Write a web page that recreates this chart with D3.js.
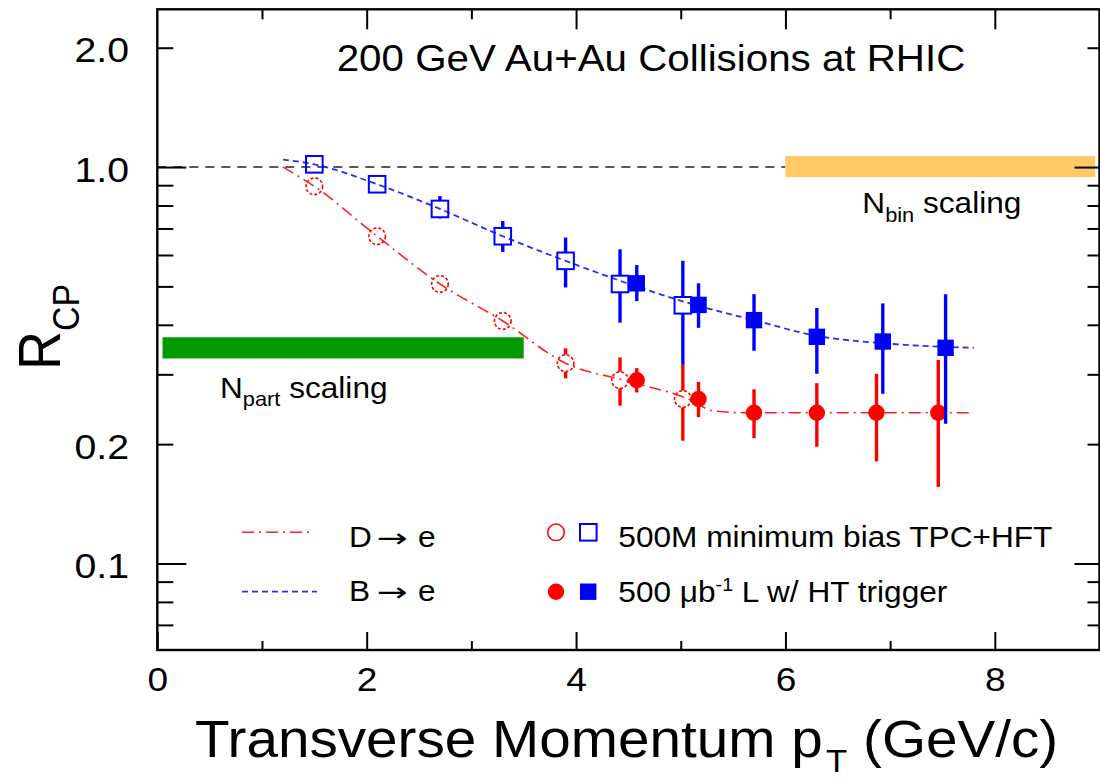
<!DOCTYPE html>
<html><head><meta charset="utf-8">
<script src="https://cdn.jsdelivr.net/npm/d3@7"></script>
<style>
body{margin:0;background:#fff}
svg{display:block}
text{font-family:"Liberation Sans",Arial,Helvetica,sans-serif;fill:#000}
</style>
</head><body>
<svg id="c" width="1100" height="780"></svg>
<script>
// ---------------- data ----------------
const xMajorTicks = [0, 2, 4, 6, 8];
const xMinorTicks = [1, 3, 5, 7];
const yLabelTicks = [0.1, 0.2, 1.0, 2.0];
const yMajorTicks = [0.1, 1.0];
const yMinorTicks = [0.07, 0.08, 0.09, 0.2, 0.3, 0.4, 0.5, 0.6, 0.7, 0.8, 0.9, 2.0];

// 500M minimum bias (open markers)
const mbPtD = [1.5, 2.1, 2.7, 3.3, 3.9, 4.42, 5.02];
const mbD   = [0.894, 0.669, 0.507, 0.409, 0.320, 0.290, 0.260];
const mbDHi = [0.894, 0.669, 0.507, 0.409, 0.349, 0.331, 0.317];
const mbDLo = [0.894, 0.669, 0.507, 0.409, 0.293, 0.250, 0.204];
const mbPtB = [1.5, 2.1, 2.7, 3.3, 3.9, 4.42, 5.02];
const mbB   = [1.016, 0.905, 0.784, 0.669, 0.580, 0.507, 0.448];
const mbBHi = [1.016, 0.905, 0.845, 0.731, 0.664, 0.620, 0.580];
const mbBLo = [1.016, 0.905, 0.742, 0.611, 0.497, 0.405, 0.317];

// 500 ub^-1 HT trigger (filled markers)
const htPtD = [4.58, 5.17, 5.70, 6.30, 6.87, 7.46];
const htD   = [0.290, 0.260, 0.240, 0.240, 0.240, 0.240];
const htDHi = [0.311, 0.287, 0.275, 0.285, 0.301, 0.326];
const htDLo = [0.270, 0.234, 0.207, 0.197, 0.181, 0.156];
const htPtB = [4.58, 5.17, 5.70, 6.30, 6.93, 7.53];
const htB   = [0.509, 0.449, 0.411, 0.373, 0.363, 0.350];
const htBHi = [0.566, 0.509, 0.478, 0.441, 0.453, 0.478];
const htBLo = [0.459, 0.393, 0.344, 0.301, 0.268, 0.225];

// model curves
const curvePtD = [1.2, 1.5, 2.1, 2.7, 3.3, 3.9, 4.5, 5.1, 5.3, 5.6, 6.5, 7.8];
const curveD   = [1.0, 0.894, 0.669, 0.507, 0.409, 0.320, 0.288, 0.258, 0.243, 0.240, 0.240, 0.240];
const curvePtB = [1.2, 1.5, 2.1, 2.7, 3.3, 3.9, 4.5, 5.1, 5.7, 6.3, 6.9, 7.5, 7.8];
const curveB   = [1.044, 1.016, 0.905, 0.784, 0.669, 0.580, 0.508, 0.452, 0.411, 0.375, 0.360, 0.352, 0.350];

// scaling bands
const nbinX = [6.0, 8.96], nbinY = [0.944, 1.066];
const npartX = [0.05, 3.5], npartY = [0.329, 0.372];
const refLevel = 1.0;

// ---------------- drawing ----------------
const FONT = '"Liberation Sans",Arial,Helvetica,sans-serif';
const SX = 1.09;
const RED = "#ff0000", BLUE = "#0000ff";
const svg = d3.select("#c");
const L = 157.3, R = 1099.5, T = 9.3, B = 650;
const x = d3.scaleLinear().domain([0, 9]).range([L, R]);
const y = d3.scaleLog().domain([0.0605, 2.5]).range([B, T]);

// reference line at 1
svg.append("line")
  .attr("x1", x(0)).attr("x2", x(nbinX[0])).attr("y1", y(refLevel)).attr("y2", y(refLevel))
  .attr("stroke", "#222").attr("stroke-width", 1.6).attr("stroke-dasharray", "9,7");

// bands
svg.append("rect").attr("x", x(nbinX[0])).attr("width", x(nbinX[1]) - x(nbinX[0]))
  .attr("y", y(nbinY[1])).attr("height", y(nbinY[0]) - y(nbinY[1])).attr("fill", "#ffc966");
svg.append("rect").attr("x", x(npartX[0])).attr("width", x(npartX[1]) - x(npartX[0]))
  .attr("y", y(npartY[1])).attr("height", y(npartY[0]) - y(npartY[1])).attr("fill", "#009a00");

// curves
const line = d3.line().x(d => x(d[0])).y(d => y(d[1])).curve(d3.curveMonotoneX);
svg.append("path").datum(curvePtD.map((p, i) => [p, curveD[i]])).attr("d", line)
  .attr("fill", "none").attr("stroke", "#ff2020").attr("stroke-width", 1.6).attr("stroke-dasharray", "12,5,2,5");
svg.append("path").datum(curvePtB.map((p, i) => [p, curveB[i]])).attr("d", line)
  .attr("fill", "none").attr("stroke", "#2a2aff").attr("stroke-width", 1.8).attr("stroke-dasharray", "6,4");

function errBars(pts, vals, hi, lo, color, gap) {
  const g = svg.append("g").attr("stroke", color).attr("stroke-width", 3.4);
  pts.forEach((p, i) => {
    const cx = x(p), cy = y(vals[i]), yt = y(hi[i]), yb = y(lo[i]);
    if (gap) {
      if (yt < cy - gap) g.append("line").attr("x1", cx).attr("x2", cx).attr("y1", yt).attr("y2", cy - gap);
      if (yb > cy + gap) g.append("line").attr("x1", cx).attr("x2", cx).attr("y1", cy + gap).attr("y2", yb);
    } else {
      g.append("line").attr("x1", cx).attr("x2", cx).attr("y1", yt).attr("y2", yb);
    }
  });
}

// red (D->e)
errBars(mbPtD, mbD, mbDHi, mbDLo, RED, 8.5);
svg.append("g").selectAll("circle").data(mbPtD).join("circle")
  .attr("cx", d => x(d)).attr("cy", (d, i) => y(mbD[i])).attr("r", 8.3)
  .attr("fill", "none").attr("stroke", RED).attr("stroke-width", 1.6).attr("stroke-dasharray", "3,2");
errBars(htPtD, htD, htDHi, htDLo, RED, 0);
svg.append("g").selectAll("circle").data(htPtD).join("circle")
  .attr("cx", d => x(d)).attr("cy", (d, i) => y(htD[i])).attr("r", 8.2).attr("fill", RED);

// blue (B->e)
errBars(mbPtB, mbB, mbBHi, mbBLo, BLUE, 8.5);
svg.append("g").selectAll("rect").data(mbPtB).join("rect")
  .attr("x", d => x(d) - 8.3).attr("y", (d, i) => y(mbB[i]) - 8.3).attr("width", 16.6).attr("height", 16.6)
  .attr("fill", "none").attr("stroke", BLUE).attr("stroke-width", 2);
errBars(htPtB, htB, htBHi, htBLo, BLUE, 0);
svg.append("g").selectAll("rect").data(htPtB).join("rect")
  .attr("x", d => x(d) - 8.2).attr("y", (d, i) => y(htB[i]) - 8.2).attr("width", 16.4).attr("height", 16.4)
  .attr("fill", BLUE);

// ---------------- texts ----------------
function txt(px, py, size, sx) {
  return svg.append("text").attr("transform", `translate(${px},${py}) scale(${sx || SX},1)`)
    .attr("font-size", size).style("font-family", FONT);
}
txt(336.7, 70.7, 37).text("200 GeV Au+Au Collisions at RHIC");

const np = txt(220, 398, 29);
np.append("tspan").text("N");
np.append("tspan").attr("font-size", 20).attr("dy", 8).text("part");
np.append("tspan").attr("font-size", 29).attr("dy", -8).text(" scaling");

const nb = txt(862.3, 213, 29);
nb.append("tspan").text("N");
nb.append("tspan").attr("font-size", 20).attr("dy", 9).text("bin");
nb.append("tspan").attr("font-size", 29).attr("dy", -9).text(" scaling");

// legend
svg.append("line").attr("x1", 242).attr("x2", 312).attr("y1", 532.3).attr("y2", 532.3)
  .attr("stroke", "#ff2020").attr("stroke-width", 1.6).attr("stroke-dasharray", "12,5,2,5");
svg.append("line").attr("x1", 242).attr("x2", 317).attr("y1", 591.7).attr("y2", 591.7)
  .attr("stroke", "#2a2aff").attr("stroke-width", 1.8).attr("stroke-dasharray", "6,4");
function arrowLabel(py, letter) {
  txt(349, py, 29).text(letter);
  txt(377, py, 26, 1.42).style("font-family", '"DejaVu Sans",sans-serif').text("\u2192");
  txt(418, py, 29).text("e");
}
arrowLabel(546.7, "D");
arrowLabel(600.7, "B");
svg.append("circle").attr("cx", 556).attr("cy", 532.3).attr("r", 8.3).attr("fill", "none").attr("stroke", RED).attr("stroke-width", 1.5);
svg.append("rect").attr("x", 580).attr("y", 524).attr("width", 16.6).attr("height", 16.6).attr("fill", "none").attr("stroke", BLUE).attr("stroke-width", 2);
svg.append("circle").attr("cx", 556).attr("cy", 591.7).attr("r", 8.2).attr("fill", RED);
svg.append("rect").attr("x", 580).attr("y", 583.5).attr("width", 16.4).attr("height", 16.4).attr("fill", BLUE);
txt(618.3, 546.7, 29).text("500M minimum bias TPC+HFT");
const ht = txt(618.3, 601.7, 29);
ht.append("tspan").text("500 \u03bcb");
ht.append("tspan").attr("font-size", 18).attr("dy", -11).text("-1");
ht.append("tspan").attr("font-size", 29).attr("dy", 11).text(" L w/ HT trigger");

// axis titles
const xt = txt(195, 757, 52);
xt.append("tspan").text("Transverse Momentum p");
xt.append("tspan").attr("font-size", 32).attr("dy", 15).attr("dx", 3).text("T");
xt.append("tspan").attr("font-size", 52).attr("dy", -15).text(" (GeV/c)");

const yt = svg.append("text").attr("transform", `translate(60,370) scale(${SX},1) rotate(-90)`)
  .attr("font-size", 54).style("font-family", FONT);
yt.append("tspan").text("R");
yt.append("tspan").attr("font-size", 34).attr("dy", 17).text("CP");

// ---------------- axes ----------------
function clean(g) {
  g.select(".domain").remove();
  g.attr("font-family", null).attr("font-size", null);
  g.selectAll("line").attr("stroke", "#000").attr("stroke-width", 2);
}
svg.append("g").attr("transform", `translate(0,${B})`)
  .call(d3.axisBottom(x).tickValues(xMajorTicks).tickSize(-18).tickFormat(d3.format("d")))
  .call(clean)
  .call(g => g.selectAll("text").attr("y", 41.5).attr("dy", null).attr("font-size", 34)
    .attr("transform", `scale(${SX},1)`).style("font-family", FONT).attr("fill", "#000"));
svg.append("g").attr("transform", `translate(0,${B})`)
  .call(d3.axisBottom(x).tickValues(xMinorTicks).tickSize(-9).tickFormat("")).call(clean);
svg.append("g").attr("transform", `translate(0,${T})`)
  .call(d3.axisTop(x).tickValues(xMajorTicks.filter(d => d > 0)).tickSize(-20).tickFormat("")).call(clean);
svg.append("g").attr("transform", `translate(0,${T})`)
  .call(d3.axisTop(x).tickValues(xMinorTicks).tickSize(-10).tickFormat("")).call(clean);

svg.append("g").attr("transform", `translate(${L},0)`)
  .call(d3.axisLeft(y).tickValues(yMinorTicks).tickSize(-16).tickFormat("")).call(clean);
svg.append("g").attr("transform", `translate(${L},0)`)
  .call(d3.axisLeft(y).tickValues(yMajorTicks).tickSize(-29).tickFormat("")).call(clean);
svg.append("g").attr("transform", `translate(${L},0)`)
  .call(d3.axisLeft(y).tickValues(yLabelTicks).tickSize(0).tickPadding(26).tickFormat(d3.format(".1f")))
  .call(clean)
  .call(g => g.selectAll("text").attr("dy", "0.39em").attr("font-size", 36)
    .attr("transform", `scale(${SX},1)`).style("font-family", FONT).attr("fill", "#000"));
svg.append("g").attr("transform", `translate(${R},0)`)
  .call(d3.axisRight(y).tickValues(yMinorTicks).tickSize(-12).tickFormat("")).call(clean);
svg.append("g").attr("transform", `translate(${R},0)`)
  .call(d3.axisRight(y).tickValues(yMajorTicks).tickSize(-25).tickFormat("")).call(clean);

// frame
svg.append("rect").attr("x", L).attr("y", T).attr("width", R - L).attr("height", B - T)
  .attr("fill", "none").attr("stroke", "#000").attr("stroke-width", 2.4);
</script>
</body></html>
